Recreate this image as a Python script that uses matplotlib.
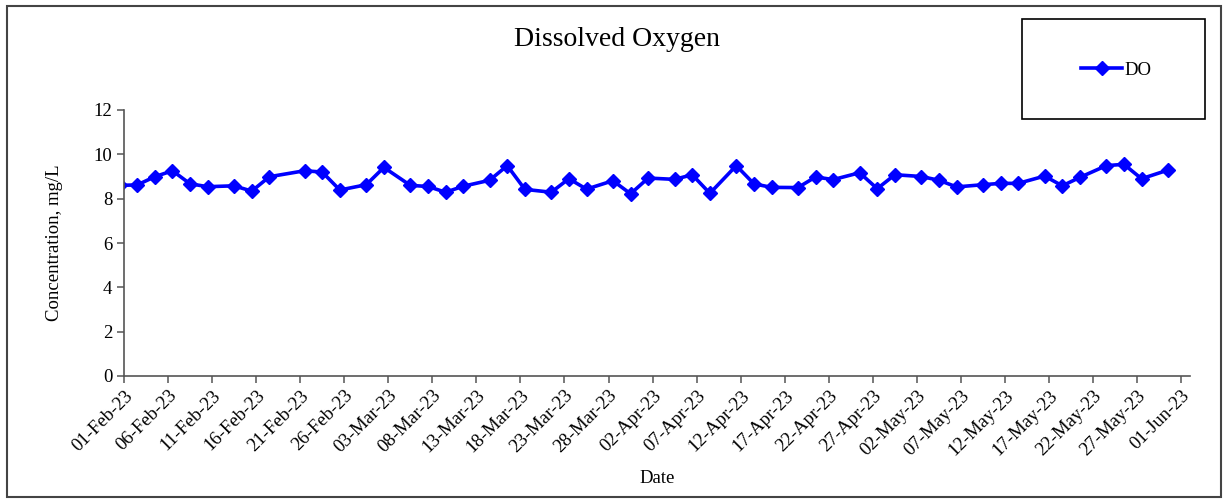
import matplotlib
matplotlib.use("Agg")
import matplotlib.pyplot as plt
import matplotlib.dates as mdates
from matplotlib.patches import Rectangle
import pandas as pd

dates = ["2023-01-31", "2023-02-02", "2023-02-04", "2023-02-06", "2023-02-08", "2023-02-10",
         "2023-02-13", "2023-02-15", "2023-02-17", "2023-02-21", "2023-02-23", "2023-02-25",
         "2023-02-28", "2023-03-02", "2023-03-05", "2023-03-07", "2023-03-09", "2023-03-11",
         "2023-03-14", "2023-03-16", "2023-03-18", "2023-03-21", "2023-03-23", "2023-03-25",
         "2023-03-28", "2023-03-30", "2023-04-01", "2023-04-04", "2023-04-06", "2023-04-08",
         "2023-04-11", "2023-04-13", "2023-04-15", "2023-04-18", "2023-04-20", "2023-04-22",
         "2023-04-25", "2023-04-27", "2023-04-29", "2023-05-02", "2023-05-04", "2023-05-06",
         "2023-05-09", "2023-05-11", "2023-05-13", "2023-05-16", "2023-05-18", "2023-05-20",
         "2023-05-23", "2023-05-25", "2023-05-27", "2023-05-30"]
do_values = [8.60, 8.62, 8.99, 9.26, 8.67, 8.54,
             8.58, 8.34, 8.99, 9.26, 9.20, 8.39,
             8.63, 9.41, 8.60, 8.55, 8.29, 8.56,
             8.83, 9.49, 8.42, 8.29, 8.90, 8.43,
             8.81, 8.22, 8.93, 8.87, 9.08, 8.24,
             9.49, 8.67, 8.51, 8.50, 8.98, 8.86,
             9.17, 8.45, 9.08, 9.00, 8.83, 8.53,
             8.63, 8.69, 8.69, 9.02, 8.58, 8.96,
             9.49, 9.55, 8.90, 9.29]
y_ticks = [0, 2, 4, 6, 8, 10, 12]
title = "Dissolved Oxygen"
series_name = "DO"
x_label = "Date"
y_label = "Concentration, mg/L"

serif = ["Liberation Serif", "DejaVu Serif"]
plt.rcParams["font.family"] = serif
fs = 13.5

fig = plt.figure(figsize=(12.25, 5.0), dpi=100)
ax = fig.add_axes([124 / 1225, 1 - 376 / 500, (1190 - 124) / 1225, (376 - 110) / 500])

# Excel date axis: points sit in the middle of each day
x = pd.to_datetime(dates) + pd.Timedelta(hours=12)
line, = ax.plot(x, do_values, color="#0000FF", lw=2.6, marker="D", markersize=7,
                markeredgecolor="#0000FF", markerfacecolor="#0000FF", label=series_name,
                clip_on=True)

ax.set_xlim(pd.Timestamp("2023-02-01"), pd.Timestamp("2023-06-02"))
ax.set_ylim(0, 12)
ax.set_yticks(y_ticks)
ticks = pd.date_range("2023-02-01", "2023-06-01", freq="5D")
ax.set_xticks(ticks)
ax.xaxis.set_major_formatter(mdates.DateFormatter("%d-%b-%y"))
for lab in ax.get_xticklabels():
    lab.set_rotation(45)
    lab.set_ha("right")
    lab.set_rotation_mode("anchor")

for s in ["top", "right"]:
    ax.spines[s].set_visible(False)
for s in ["left", "bottom"]:
    ax.spines[s].set_color("#555555")
    ax.spines[s].set_linewidth(1.2)
ax.tick_params(axis="both", direction="out", length=5, width=1.1, color="#555555",
               labelsize=fs, labelcolor="black")
ax.tick_params(axis="x", pad=3)

ax.set_xlabel(x_label, fontsize=fs, labelpad=8)
ax.set_ylabel(y_label, fontsize=fs, labelpad=22)

fig.text(617 / 1225, 1 - 39 / 500, title, ha="center", va="center", fontsize=20)

# outer chart border
fig.patches.append(Rectangle((7 / 1225, 3 / 500), (1221 - 7) / 1225, (494 - 3) / 500,
                             transform=fig.transFigure, fill=False,
                             edgecolor="#444444", lw=1.5))
# legend box
fig.patches.append(Rectangle((1022 / 1225, 1 - 119 / 500), (1205 - 1022) / 1225, 100 / 500,
                             transform=fig.transFigure, fill=False,
                             edgecolor="black", lw=1.2))
fig.legend(handles=[line], loc="center", bbox_to_anchor=(1116 / 1225, 1 - 70 / 500),
           frameon=False, fontsize=fs, handlelength=2.2, handletextpad=0.1,
           borderpad=0)

fig.savefig("out.png", dpi=100)
